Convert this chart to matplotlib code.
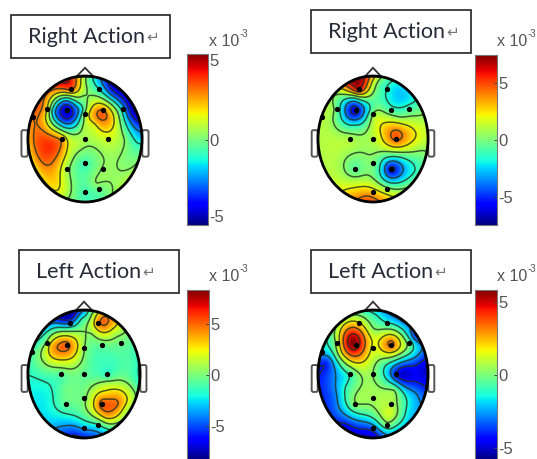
import matplotlib
matplotlib.use("Agg")
import matplotlib.pyplot as plt
from matplotlib.patches import Ellipse, Rectangle, FancyBboxPatch, Polygon
import numpy as np

W, H = 537, 459
titles = ["Right Action", "Right Action", "Left Action", "Left Action"]
ranges = [5.0, 7.5, 8.3, 5.8]
cb_ticks = [-5, 0, 5]
cb_labels = ["-5", "0", "5"]

# electrodes seen on the scalp
elec_x = [-.25, .25, -.66, -.31, 0, .32, .66, -.41, 0, .41, -.32, 0, .32, 0, .25, -.92]
elec_y = [.79, .79, .48, .46, .40, .46, .48, 0, 0, 0, -.47, -.38, -.47, -.84, -.80, .35]

# field samples: x, y (head units), value (x 1e-3)
x1 = [-.32, -.66, .30, 0, -.38, -.25, 0, .5, .25, .85, .66, .97, .73, .41, -.62, -.41, -.62, -.8, -.25, -.15, 0, 0, 0, .32, -.32, .25, -.5, .85, -.05, .0, .15, -.1,
      -.56, -.06, -.32, -.32, -.45, -.19, 0, -.25, .2]
y1 = [.45, .48, .40, .40, .85, .79, .93, .8, .79, .45, .48, 0, 0, 0, -.1, 0, -.45, .29, -.1, -.08, 0, -.38, -.84, -.47, -.47, -.80, -.82, -.45, .65, .18, .22, .62,
      .45, .45, .63, .21, .45, .45, -.98, -.7, -.7]
v1 = [-4.6, 1.5, 3.2, .5, 3.6, 3, .4, -4, -1, -4.5, -1.5, -1.5, 0, 1, 3.6, 2.5, 2.6, 2.6, 1, .8, .5, -.7, -.7, .3, .6, -.3, 1.5, .3, 0, .6, 1.2, -.2,
      -1.5, -1.5, -1.7, -1.7, -3.2, -3.2, -.6, .3, .25]

x2 = [-.27, -.27, -.7, 0, .18, .5, .25, .32, .68, .76, -.33, -.7, -.88, 0, .42, .78, .94, .5, -.42, 0, -.94, .33, .76, .15, .88, 0, -.33, .64, -.7, -.09, 0, -.45, .25,
      -.6, -.06, -.33, -.33, .15, .6, .33, .4, .15, .42, .42, -.55]
y2 = [.87, .79, .76, .87, .87, .71, .79, .48, .48, .6, .45, .47, .34, .4, .05, .05, .39, .34, 0, 0, 0, -.47, -.5, -.29, -.18, -.38, -.47, -.76, -.47, -.95, -.84, -.82, -.8,
      .45, .45, .65, .22, -.47, -.55, -.3, -.7, .05, .26, -.13, -.47]
v2 = [7, 6, 1, 1.5, -1, -2.7, -1.5, -1, -.8, -1.5, -6, .3, 1, .5, 4.8, 2.25, .4, .5, 1, 1, 1, -5.6, -1.5, -.7, .4, 0, -.6, .3, 1, 4.6, 3, 2.5, 1,
      -1.5, -1.5, -1.5, -1.5, -2, -2.5, -2, -1.5, 2.25, 2.25, 2.25, .5]

x3 = [-.26, -.5, -.06, .06, .35, .25, .56, .15, -.38, -.32, -.65, -.91, 0, -.09, .32, .66, .38, .41, .85, -.41, 0, -.91, -.32, -.62, .41, .32, 0, -.32, .85, .91, .5, .25, 0, -.15, -.6,
      -.6, -.14, -.38, .2, .62, .41, .41, .41, .75]
y3 = [.9, .79, .87, .9, .8, .79, .63, .63, .45, .47, .48, .37, .41, .22, .47, .48, .11, 0, .17, 0, 0, 0, -.2, -.35, -.46, -.46, -.35, -.46, -.41, -.1, -.82, -.78, -.82, -.93, -.77,
      .45, .45, .25, -.46, -.46, -.3, -.65, -.17, -.55]
v3 = [-7.5, -3.5, -2, -1, 5, 4, 1, .5, 5, 5, 1, -1, .5, 1, -.3, -.3, -1.3, -1.5, -1, -.8, -.5, -1.5, -.3, -2, 5.2, 5.2, 0, -.5, 1.5, -1, -.5, -1.5, -3, -5.5, -3,
      3, 3, 3, 3, 4.5, 3, 3.5, 1.5, 1.5]

x4 = [-.36, -.33, -.27, -.7, -.6, -.36, 0, 0, .25, .09, .33, .68, .76, .88, .42, .82, .18, 0, -.42, -.82, -.94, 0, -.33, -.7, -.7, .33, .32, .76, .64, .25, 0, .45, -.33, 0, .39,
      -.95, -.9, -.85, -.5, 0, .95, .55, .55, .76, -.55]
y4 = [.5, .45, .79, .49, .32, .17, .41, .69, .79, .95, .47, .48, .79, .43, 0, 0, .17, 0, 0, 0, .34, -.35, -.46, -.35, -.72, -.59, -.46, -.3, -.56, -.78, -.82, -.87, -.93, -.2, -.25,
      -.1, -.4, .2, -.85, -.98, .1, 0, .8, .6, -.2]
v4 = [5.8, 5.4, 2, 0, 1, 1.5, 1.5, .5, -1, -1.5, 3.5, -.5, -3, -2.5, -4, -4.6, -.5, .3, -1, -3.5, -2, .5, .2, -3, -3.9, 1.2, .6, -2.5, -1.5, 0, -3, -2, -4.8, .5, .2,
      -3.9, -3.9, -3.8, -4.8, -5, -5, -5, -2.5, -3.5, -1.5]

samples = [(x1, y1, v1), (x2, y2, v2), (x3, y3, v3), (x4, y4, v4)]


def px_axes(fig, x0, y0, x1_, y1_):
    return fig.add_axes([x0 / W, 1 - y1_ / H, (x1_ - x0) / W, (y1_ - y0) / H])


def green(r):
    # biharmonic spline kernel, same idea as the v4 griddata of topoplot
    return np.where(r > 0, r ** 2 * (np.log(np.maximum(r, 1e-9)) - 1), 0.0)


def field(px, py, pv, gx, gy):
    px, py, pv = np.array(px), np.array(py), np.array(pv, float)
    d = np.hypot(px[:, None] - px[None, :], py[:, None] - py[None, :])
    w = np.linalg.solve(green(d) + 1e-3 * np.eye(len(px)), pv)
    r = np.hypot(gx[..., None] - px, gy[..., None] - py)
    return (green(r) * w).sum(axis=-1)


def head(fig, box, s, vmax):
    ax = px_axes(fig, *box)
    ax.set_xlim(-1.3, 1.3)
    ax.set_ylim(-1.3, 1.3)
    ax.axis("off")
    gx, gy = np.meshgrid(np.linspace(-1, 1, 220), np.linspace(-1, 1, 220))
    z = field(s[0], s[1], s[2], gx, gy)
    z = np.ma.masked_where(gx ** 2 + gy ** 2 > 1, np.clip(z, -vmax, vmax))
    ax.pcolormesh(gx, gy, z, cmap="jet", vmin=-vmax, vmax=vmax, shading="gouraud", rasterized=True)
    levels = vmax * np.array([-.7, -.45, -.2, .05, .3, .55, .8])
    ax.contour(gx, gy, z, levels=levels, colors="#223322", linewidths=1.1, alpha=.8, linestyles="solid")
    ax.add_patch(Ellipse((0, 0), 2, 2, fill=False, ec="black", lw=2.0, zorder=5))
    ax.add_patch(Polygon([(-.15, .99), (0, 1.13), (.15, .99)], closed=True, fc="white", ec="#333333", lw=1.3, zorder=4))
    for sign in [-1, 1]:
        ax.add_patch(FancyBboxPatch((sign * 1.06 - .025, -.25), .05, .36, boxstyle="round,pad=0.03",
                                    fc="white", ec="#555555", lw=1.4, zorder=3))
    ax.plot(elec_x, elec_y, "o", color="black", ms=2.8, zorder=6)


fig = plt.figure(figsize=(W / 100, H / 100), dpi=100)
plt.rcParams["font.family"] = ["Liberation Sans", "DejaVu Sans"]

head_c = [(85, 139), (373, 139), (84, 374), (373, 374)]
head_r = [(57, 63), (55, 63), (56, 64), (55, 64)]
cbars = [(187, 54, 208, 225), (475, 55, 497, 225), (187, 290, 209, 460), (475, 290, 497, 460)]
boxes = [(11, 15, 170, 58), (311, 10, 471, 53), (19, 250, 179, 293), (311, 250, 471, 293)]
title_x = [28, 328, 36, 328]
exp_xy = [(209, 46), (497, 46), (209, 281), (497, 281)]

grad = np.linspace(1, 0, 256)[:, None]
renderer = fig.canvas.get_renderer()
for i in range(4):
    cx, cy = head_c[i]
    rx, ry = head_r[i]
    head(fig, (cx - 1.3 * rx, cy - 1.3 * ry, cx + 1.3 * rx, cy + 1.3 * ry), samples[i], ranges[i])

    # colour bar
    cb = px_axes(fig, *cbars[i])
    vmax = ranges[i]
    cb.imshow(grad, aspect="auto", cmap="jet", extent=[0, 1, -vmax, vmax])
    cb.set_xticks([])
    cb.set_yticks(cb_ticks)
    cb.set_yticklabels(cb_labels)
    cb.yaxis.tick_right()
    cb.tick_params(axis="y", direction="in", length=2, width=.7, color="#444444", pad=1,
                   labelsize=12, labelcolor="#555555")
    if i == 0:
        # end labels stay inside the bar height on the first map
        cb.get_yticklabels()[2].set_va("top")
        cb.get_yticklabels()[0].set_va("bottom")
    for sp in cb.spines.values():
        sp.set_color("#777777")
        sp.set_linewidth(.8)

    # multiplier above the bar
    ex, ey = exp_xy[i]
    fig.text(ex / W, 1 - ey / H, "x 10", fontsize=11.5, color="#555555", va="baseline")
    fig.text((ex + 31) / W, 1 - (ey - 9) / H, "-3", fontsize=7, color="#555555", va="baseline")

    # label box
    x0, y0, x1_, y1_ = boxes[i]
    fig.add_artist(Rectangle((x0 / W, 1 - y1_ / H), (x1_ - x0) / W, (y1_ - y0) / H,
                             transform=fig.transFigure, fc="white", ec="#222222", lw=1.2, zorder=10))
    ty = 1 - (y0 + y1_) / 2 / H - .002
    t = fig.text(title_x[i] / W, ty, titles[i], fontsize=15.5, color="#2a2a3a", va="center",
                 family="Lato", zorder=11)
    end = t.get_window_extent(renderer).x1
    fig.text((end + 1) / W, ty, "\u21b5", fontsize=11, color="#777777", va="center",
             family="DejaVu Sans", zorder=11)

fig.savefig("out.png", dpi=100)
